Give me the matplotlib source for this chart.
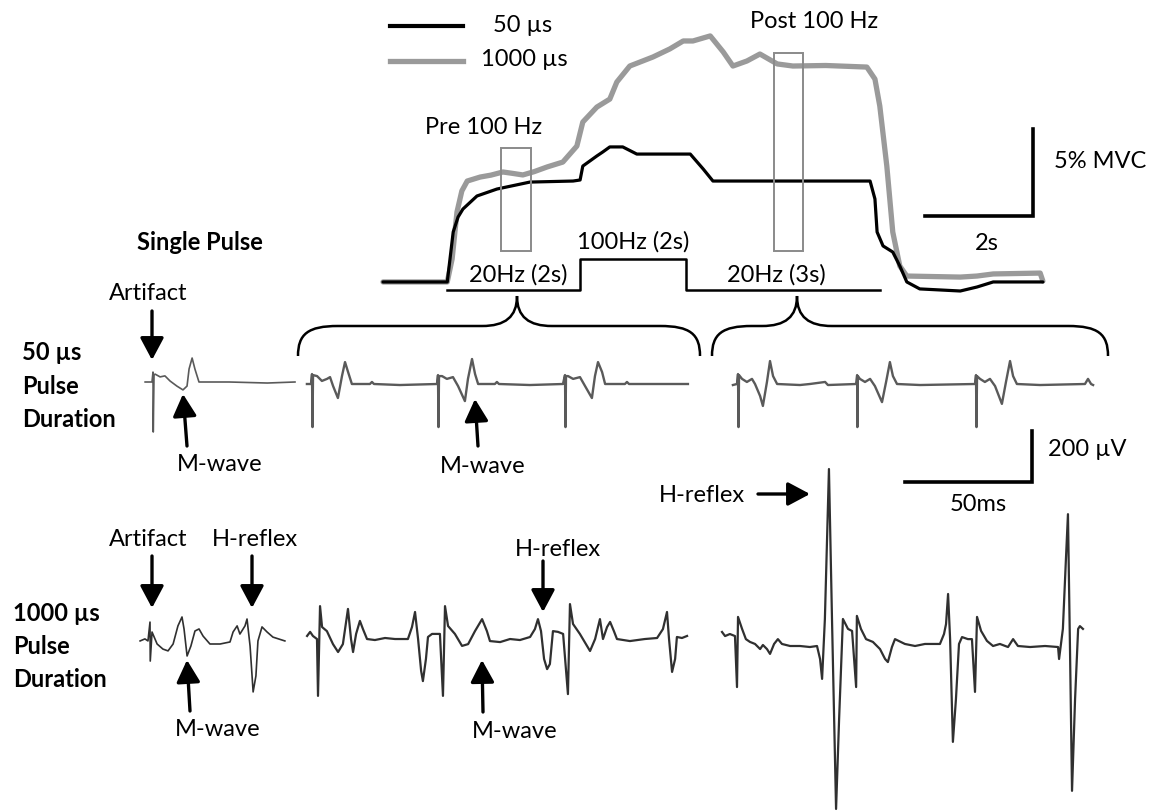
import matplotlib
matplotlib.use("Agg")
import matplotlib.pyplot as plt
from matplotlib.path import Path
from matplotlib.patches import PathPatch, Rectangle

plt.rcParams["font.family"] = ["Lato", "DejaVu Sans"]

W, H = 1153, 812

# ── force traces (time in s, force in %MVC) ───────────────────────────────
grey_t = [0.00, 1.19, 1.28, 1.37, 1.46, 1.56, 1.80, 2.00, 2.22, 2.40, 2.59, 2.80, 3.04, 3.33,
          3.59, 3.70, 3.96, 4.20, 4.33, 4.57, 5.00, 5.31, 5.56, 5.74, 6.06, 6.30, 6.48,
          6.74, 6.98, 7.30, 7.59, 8.20, 8.96, 9.11, 9.20, 9.33, 9.44, 9.57, 9.70,
          10.69, 11.00, 11.30, 12.17, 12.22]
grey_v = [0.06, 0.06, 1.38, 4.08, 5.29, 5.86, 6.09, 6.20, 6.38, 6.30, 6.21, 6.40, 6.67, 6.95,
          7.87, 9.25, 10.11, 10.57, 11.55, 12.47, 12.99, 13.45, 13.91, 13.91, 14.20, 13.28, 12.47,
          12.76, 13.16, 12.59, 12.47, 12.50, 12.41, 11.72, 10.17, 6.72, 2.93, 0.98, 0.40,
          0.34, 0.40, 0.52, 0.57, 0.11]

black_t = [0.00, 1.19, 1.30, 1.39, 1.48, 1.74, 2.11, 2.72, 3.52, 3.65, 3.70, 3.96, 4.07, 4.20,
           4.44, 4.70, 5.69, 5.93, 6.11, 9.02, 9.11, 9.15, 9.26, 9.44, 9.57, 9.70, 9.94,
           10.69, 11.00, 11.30, 12.22]
black_v = [0.06, 0.06, 2.93, 3.79, 4.25, 5.00, 5.40, 5.80, 5.86, 5.92, 6.72, 7.30, 7.53, 7.82,
           7.82, 7.41, 7.41, 6.55, 5.86, 5.86, 4.83, 2.93, 2.13, 1.78, 0.98, 0.06, -0.34,
           -0.46, -0.23, 0.06, 0.06]

# stimulation protocol drawn under the force traces
stim_t = [1.19, 3.65, 3.65, 5.61, 5.61, 9.20]
stim_v = [-0.40, -0.40, 1.38, 1.38, -0.40, -0.40]

# windows (start s, end s, bottom %MVC, top %MVC)
pre_box = (2.19, 2.74, 1.84, 7.76)
post_box = (7.24, 7.78, 1.84, 13.22)

# ── EMG traces (time in ms from first stimulus, amplitude in µV) ──────────
sp50_t = [-3.1, -0.4, 0.0, 0.1, 0.4, 0.8, 2.8, 4.7, 6.7, 9.4, 11.8, 13.4, 14.2, 15.4, 16.5,
          18.1, 30.0, 45.0, 55.9]
sp50_v = [0, 0, 39, -196, 27, 31, 20, 24, 4, -16, -31, -16, 51, 94, 51, 0, 0, -4, 0]

pre50_t = [-2.0, -0.4, 0.0, 0.2, 0.4, 2.0, 3.9, 5.9, 7.1, 8.3, 10.2, 11.8, 13.0, 14.2, 15.7,
           22.8, 23.6, 24.4, 34.6, 49.2,
           49.6, 49.8, 50.0, 51.2, 53.1, 55.5, 57.5, 60.2, 61.4, 63.0, 64.2, 65.4, 72.0, 72.8,
           73.6, 85.8, 98.8,
           99.6, 99.8, 100.0, 100.8, 102.8, 105.5, 107.5, 110.2, 111.4, 112.6, 114.2, 115.4,
           123.2, 124.0, 124.8, 148.0]
pre50_v = [0, 0, 39, -169, 35, 31, 12, 20, 27, -8, -55, 31, 86, 47, 0,
           0, 8, 0, -4, 0,
           35, -169, 31, 31, 20, 27, -8, -67, 20, 98, 39, 0, 0, 8,
           0, -4, 0,
           35, -169, 31, 31, 20, 27, -8, -55, 31, 86, 47, 0,
           0, 8, 0, 0]

post50_t = [-2.0, -0.4, 0.0, 0.2, 0.4, 1.6, 3.5, 5.5, 6.7, 8.7, 9.8, 11.4, 12.6, 13.8, 15.4,
            24.4, 28.3, 34.3, 35.4, 46.5,
            46.9, 47.0, 47.2, 48.0, 50.0, 52.0, 53.9, 56.7, 58.3, 59.8, 61.0, 62.6, 71.7, 93.3,
            93.7, 93.9, 94.1, 95.3, 97.2, 99.2, 101.2, 103.9, 105.5, 107.1, 108.3, 109.8,
            118.9, 136.6, 137.8, 139.0, 139.8]
post50_v = [-4, 0, 39, -169, 35, 20, 8, 20, 0, -47, -86, 8, 90, 31, 0,
            -4, 0, 8, -4, 0,
            35, -169, 31, 20, 8, 20, -8, -71, 8, 86, 31, 0, -4, 0,
            35, -169, 31, 20, 8, 20, -8, -78, 8, 90, 31, 0,
            -4, 0, 20, 0, -4]

sp1000_t = [-3.9, -2.0, -0.8, 0.0, 0.1, 0.8, 2.8, 5.1, 7.1, 9.1, 11.0, 12.6, 13.4, 14.6, 16.1,
            17.7, 19.3, 20.9, 23.6, 27.6, 31.5, 32.7, 34.3, 35.4, 37.4, 38.2, 39.4, 40.6,
            41.7, 42.5, 44.1, 46.1, 48.4, 53.1]
sp1000_v = [12, 20, 12, 86, -67, 47, 0, -20, -27, 0, 71, 106, 59, -47, -8,
            51, 59, 31, 0, 0, 8, 47, 71, 39, 71, 98, -8, -188,
            -125, 12, 67, 47, 27, 12]

pre1000_t = [-4.3, -3.1, -2.0, -0.4, 0.0, 0.8, 1.6, 3.5, 5.9, 7.9, 9.8, 11.8, 13.0, 13.8, 15.0,
             16.5, 17.7, 19.3, 22.4, 26.4, 30.3, 35.4, 37.0, 38.2, 39.4, 40.6, 41.3, 42.5,
             43.3, 44.9, 48.0,
             49.2, 50.0, 51.2, 53.9, 56.7, 59.1, 61.8, 64.6, 66.5, 67.7, 71.7, 75.6, 79.5,
             83.5, 85.4, 86.6, 87.8, 89.0, 90.2, 91.3, 92.5, 94.5, 96.5,
             98.4, 99.2, 100.4, 103.1, 107.1, 109.1, 111.0, 112.2, 113.8, 115.0, 116.5, 117.7,
             122.8, 128.7, 133.5, 135.8, 137.4, 138.2, 139.4, 140.6, 141.3, 143.3, 145.3]
pre1000_v = [8, 24, 8, -4, -227, 125, 43, 27, -24, -55, -24, 114, -4, -55, 16,
             67, 35, -4, -8, 0, -4, -4, 43, 102, -4, -129, -169, -82,
             4, 16, 16,
             -227, 125, 47, 16, -31, -24, 27, 74, 27, -12, -16, -4, -8,
             4, 35, 74, 27, -82, -122, -102, 27, 24, 16,
             -220, 133, 55, 16, -51, -4, 74, -4, 43, 63, 27, -4,
             -12, -4, 0, 35, 102, -4, -133, -82, 4, 0, 8]

post1000_t = [-5.9, -4.7, -2.8, -0.8, 0.0, 0.4, 2.0, 3.5, 5.1, 7.1, 9.1, 10.2, 11.8, 13.0,
              14.6, 16.1, 17.7, 20.9, 24.8, 28.7, 31.5, 32.7, 33.5, 34.6, 36.2, 37.4, 39.0,
              40.2, 41.7, 43.7, 45.3,
              46.9, 47.2, 48.8, 50.8, 53.5, 56.3, 58.3, 59.4, 61.0, 62.2, 66.1, 70.1, 74.0,
              79.9, 81.5, 82.3, 83.1, 83.9, 85.0, 86.2, 87.4, 88.6, 90.9, 92.5,
              93.7, 94.5, 96.1, 98.4, 100.8, 103.5, 106.7, 108.7, 110.6, 115.4, 121.3, 126.4,
              126.8, 128.3, 129.5, 130.3, 131.1, 131.9, 133.1, 134.3, 135.0, 136.2]
post1000_v = [55, 39, 47, 39, -161, 114, 67, 27, 16, 8, -12, 4, -12, -31,
              8, 27, 8, 0, 0, -4, 0, -51, -129, 106, 694, 106, -639,
              -286, 106, 67, 59,
              -161, 118, 67, 27, 16, -12, -51, -63, -4, 27, 8, 0, 8,
              8, 47, 86, 204, 27, -376, -208, 8, 35, 27, 27,
              -180, 114, 59, 20, 0, 8, -4, 27, 0, -4, 0, -4,
              -51, 67, 341, 517, -12, -568, -208, 67, 78, 67]

# scale bars
force_bar_s, force_bar_pct = 2, 5
emg_bar_ms, emg_bar_uv = 50, 200

GREY = "#9a9a9a"
EMG50 = "#5a5a5a"
EMG1000 = "#303030"
FS = 17

fig = plt.figure(figsize=(W / 100, H / 100), dpi=100)
fig.patch.set_facecolor("white")


def panel(x0, y0, sx, sy, pad_l, pad_r, pad_t, pad_b):
    """Axes whose data origin sits at pixel (x0, y0), sx/sy pixels per unit."""
    ax = fig.add_axes([(x0 - pad_l) / W, 1 - (y0 + pad_b) / H,
                       (pad_l + pad_r) / W, (pad_t + pad_b) / H])
    ax.set_xlim(-pad_l / sx, pad_r / sx)
    ax.set_ylim(-pad_b / sy, pad_t / sy)
    ax.axis("off")
    return ax


# ── force panel ───────────────────────────────────────────────────────────
axf = panel(383, 284, 54, 17.4, 5, 700, 278, 22)
axf.plot(black_t, black_v, color="black", lw=2.3, solid_capstyle="round", zorder=3)
axf.plot(grey_t, grey_v, color=GREY, lw=3.8, solid_capstyle="round", zorder=2)
axf.plot(stim_t, stim_v, color="black", lw=1.8)
for (t0, t1, v0, v1) in (pre_box, post_box):
    axf.add_patch(Rectangle((t0, v0), t1 - t0, v1 - v0, fill=False,
                            ec="#8a8a8a", lw=1.4, zorder=4))
bar_t, bar_v = 12.04, 3.85
axf.plot([bar_t - force_bar_s, bar_t, bar_t], [bar_v, bar_v, bar_v + force_bar_pct],
         color="black", lw=2.6, solid_joinstyle="miter")

# ── EMG panels ────────────────────────────────────────────────────────────
SX, SY = 2.54, 0.255
emg = [
    (153, 383, sp50_t, sp50_v, EMG50, 1.2),
    (312, 385, pre50_t, pre50_v, EMG50, 1.7),
    (738, 385, post50_t, post50_v, EMG50, 1.7),
    (150, 645, sp1000_t, sp1000_v, EMG1000, 1.2),
    (318, 639, pre1000_t, pre1000_v, EMG1000, 1.6),
    (737, 647, post1000_t, post1000_v, EMG1000, 1.6),
]
emg_axes = []
for x0, y0, t, v, c, lw in emg:
    a = panel(x0, y0, SX, SY, 30, 420, 260, 200)
    a.plot(t, v, color=c, lw=lw, solid_joinstyle="round")
    emg_axes.append(a)

a = emg_axes[2]
bt, bv = 115.7, -384
a.plot([bt - emg_bar_ms, bt, bt], [bv, bv, bv + emg_bar_uv], color="black", lw=2.6,
       solid_joinstyle="miter")

# ── annotation canvas ─────────────────────────────────────────────────────
cv = fig.add_axes([0, 0, 1, 1], zorder=10)
cv.set_xlim(0, W)
cv.set_ylim(H, 0)
cv.axis("off")
cv.patch.set_alpha(0)

# legend
cv.plot([390, 463], [27, 27], color="black", lw=3.0)
cv.plot([390, 463], [62, 62], color=GREY, lw=3.8)
cv.text(523, 26, "50 µs", fontsize=FS, ha="center", va="center")
cv.text(524, 59, "1000 µs", fontsize=FS, ha="center", va="center")

cv.text(484, 128, "Pre 100 Hz", fontsize=FS, ha="center", va="center")
cv.text(814, 22, "Post 100 Hz", fontsize=FS, ha="center", va="center")
cv.text(1054, 161, "5% MVC", fontsize=FS, ha="left", va="center")
cv.text(987, 244, "2s", fontsize=FS, ha="center", va="center")
cv.text(137, 242, "Single Pulse", fontsize=FS, fontweight="bold", ha="left", va="center")
cv.text(633, 242, "100Hz (2s)", fontsize=FS, ha="center", va="center")
cv.text(518, 275, "20Hz (2s)", fontsize=FS, ha="center", va="center")
cv.text(776, 275, "20Hz (3s)", fontsize=FS, ha="center", va="center")

for x, y, s in [(22, 353, "50 µs"), (22, 387, "Pulse"), (22, 420, "Duration"),
                (13, 614, "1000 µs"), (13, 647, "Pulse"), (13, 680, "Duration")]:
    cv.text(x, y, s, fontsize=FS, fontweight="bold", ha="left", va="center")

labels = [(148, 294, "Artifact"), (220, 465, "M-wave"), (483, 467, "M-wave"),
          (148, 540, "Artifact"), (255, 540, "H-reflex"), (558, 550, "H-reflex"),
          (218, 730, "M-wave"), (515, 732, "M-wave"), (978, 505, "50ms")]
for x, y, s in labels:
    cv.text(x, y, s, fontsize=FS, ha="center", va="center")
cv.text(1048, 450, "200 µV", fontsize=FS, ha="left", va="center")
cv.text(745, 496, "H-reflex", fontsize=FS, ha="right", va="center")

arrows = [((152, 312), (152, 361)), ((187, 447), (183, 395)), ((478, 447), (475, 400)),
          ((758, 495), (810, 495)), ((152, 557), (152, 609)), ((252, 557), (252, 609)),
          ((190, 712), (187, 661)), ((543, 562), (543, 613)), ((483, 713), (482, 661))]
for tail, head in arrows:
    cv.annotate("", xy=head, xytext=tail,
                arrowprops=dict(arrowstyle="-|>,head_length=0.75,head_width=0.4",
                                color="black", lw=2.4, mutation_scale=18,
                                shrinkA=0, shrinkB=0))


def brace(x0, x1, tip, y_end=357, y_mid=327, y_tip=297):
    verts = [(x0, y_end), (x0, y_mid + 8), (x0 + 10, y_mid), (x0 + 40, y_mid),
             (tip - 35, y_mid),
             (tip - 12, y_mid), (tip, y_mid - 9), (tip, y_tip),
             (tip, y_mid - 9), (tip + 12, y_mid), (tip + 35, y_mid),
             (x1 - 40, y_mid),
             (x1 - 10, y_mid), (x1, y_mid + 8), (x1, y_end)]
    codes = [Path.MOVETO, Path.CURVE4, Path.CURVE4, Path.CURVE4, Path.LINETO,
             Path.CURVE4, Path.CURVE4, Path.CURVE4, Path.CURVE4, Path.CURVE4, Path.CURVE4,
             Path.LINETO, Path.CURVE4, Path.CURVE4, Path.CURVE4]
    cv.add_patch(PathPatch(Path(verts, codes), fill=False, lw=1.8, ec="black"))


brace(298, 700, 517)
brace(712, 1108, 797)

fig.savefig("out.png", dpi=100, facecolor="white")
